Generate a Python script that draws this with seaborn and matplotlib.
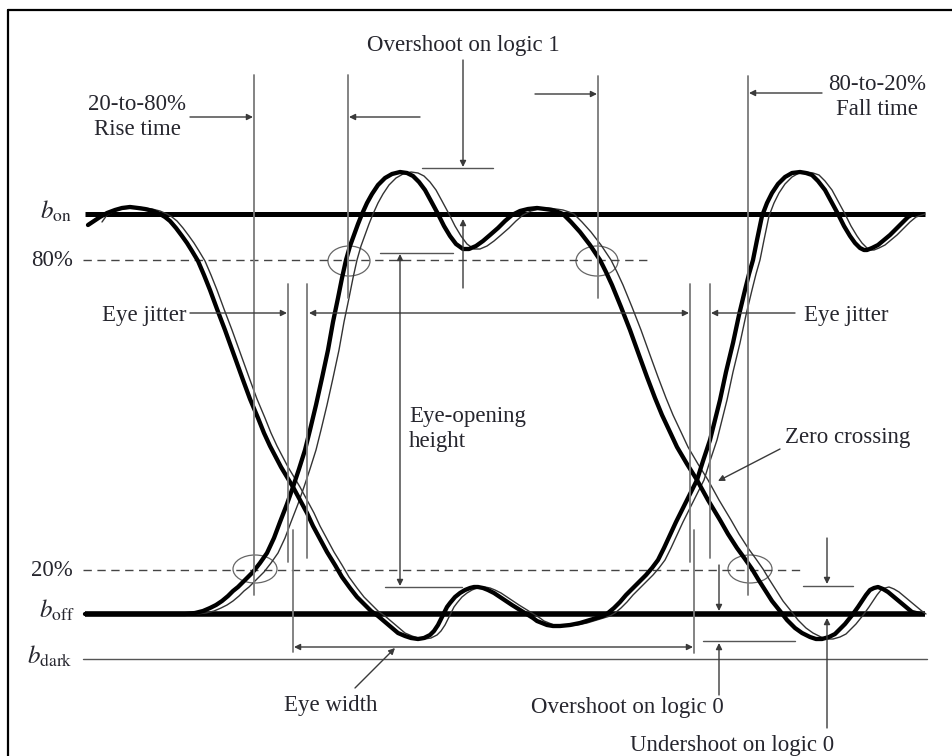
import numpy as np
import pandas as pd
import matplotlib
matplotlib.use("Agg")
import matplotlib.pyplot as plt
from matplotlib.patches import Ellipse
import seaborn as sns

sns.set_theme(style="white")
plt.rcParams['font.family'] = ['Liberation Serif', 'DejaVu Serif']
plt.rcParams['mathtext.fontset'] = 'stix'

# signal levels (vertical position on the drawing, y grows downward)
level_names = ["b_on", "80%", "20%", "b_off", "b_dark"]
level_y = [214, 260, 570, 614, 659]

# trace A: logic 0 -> 1 -> 0 (thick, early), (x, y) pairs
trace_a = [(85, 614), (160, 614), (185, 614), (195, 613), (203, 611), (210, 608), (216, 605),
           (222, 601), (228, 596), (233, 591), (238, 587), (243, 582), (248, 577), (253, 572),
           (260, 563), (267, 553), (274, 538), (280, 522), (287, 504), (293, 487), (299, 469),
           (305, 450), (310, 430), (316, 405), (322, 378), (328, 350), (333, 322), (338, 298),
           (342, 278), (346, 260), (350, 246), (354, 235), (358, 224), (362, 214), (367, 203),
           (372, 194), (378, 185), (385, 178), (392, 174), (400, 172), (407, 173), (413, 176),
           (419, 182), (425, 190), (431, 201), (438, 214), (444, 226), (450, 236), (456, 244),
           (463, 249), (469, 249), (476, 246), (483, 241), (490, 235), (498, 228), (505, 221),
           (512, 215), (520, 211), (528, 209), (537, 208), (545, 209), (552, 210), (558, 212),
           (563, 214), (571, 222), (580, 232), (590, 245), (600, 260), (606, 272), (612, 285),
           (621, 307), (630, 330), (639, 355), (647, 377), (655, 398), (662, 415), (670, 432),
           (677, 447), (687, 464), (697, 480), (708, 500), (720, 520), (728, 534), (737, 548),
           (745, 559), (752, 569), (758, 579), (765, 590), (772, 601), (780, 611), (787, 620),
           (795, 628), (802, 633), (810, 637), (816, 639), (822, 639), (829, 637), (835, 634),
           (840, 629), (845, 624), (849, 619), (853, 614), (858, 607), (862, 601), (866, 595),
           (870, 590), (874, 588), (878, 587), (883, 589), (888, 592), (894, 597), (900, 602),
           (906, 607), (912, 612), (920, 614)]

# trace A, late copy (thin)
trace_a_late = [(171, 614), (196, 614), (206, 613), (214, 611), (221, 608), (227, 605), (233, 601),
                (239, 596), (244, 591), (249, 587), (254, 582), (259, 577), (264, 572), (271, 563),
                (278, 553), (285, 538), (291, 522), (298, 504), (304, 487), (310, 469), (316, 450),
                (321, 430), (327, 405), (333, 378), (339, 350), (344, 322), (349, 298), (353, 278),
                (357, 260), (361, 246), (365, 235), (369, 224), (373, 214), (378, 203), (383, 194),
                (389, 185), (396, 178), (403, 174), (411, 172), (418, 173), (424, 176), (430, 182),
                (436, 190), (442, 201), (449, 214), (455, 226), (461, 236), (467, 244), (474, 249),
                (480, 249), (487, 246), (494, 241), (501, 235), (509, 228), (516, 221), (523, 215),
                (531, 211), (539, 209), (548, 208), (556, 209), (563, 210), (569, 212), (574, 214),
                (582, 222), (591, 232), (601, 245), (611, 260), (617, 272), (623, 285), (632, 307),
                (641, 330), (650, 355), (658, 377), (666, 398), (673, 415), (681, 432), (688, 447),
                (698, 464), (708, 480), (719, 500), (731, 520), (739, 534), (748, 548), (756, 559),
                (763, 569), (769, 579), (776, 590), (783, 601), (791, 611), (798, 620), (806, 628),
                (813, 633), (821, 637), (827, 639), (833, 639), (840, 637), (846, 634), (851, 629),
                (856, 624), (860, 619), (864, 614), (869, 607), (873, 601), (877, 595), (881, 590),
                (885, 588), (889, 587), (894, 589), (899, 592), (905, 597), (911, 602), (917, 607),
                (923, 612), (926, 614)]

# trace B: logic 1 -> 0 -> 1 (thick, early)
trace_b = [(88, 225), (94, 221), (100, 217), (107, 213), (115, 210), (122, 208), (130, 207),
           (138, 208), (145, 209), (153, 211), (160, 214), (165, 217), (170, 221), (176, 228),
           (182, 236), (187, 243), (192, 251), (198, 261), (204, 275), (210, 290), (217, 309),
           (225, 330), (234, 355), (243, 380), (250, 399), (258, 418), (264, 433), (270, 446),
           (281, 467), (293, 487), (300, 500), (307, 513), (313, 526), (320, 539), (327, 552),
           (335, 565), (342, 577), (350, 588), (357, 597), (365, 605), (371, 611), (378, 616),
           (385, 622), (392, 628), (398, 633), (405, 636), (411, 638), (418, 639), (424, 638),
           (430, 635), (434, 631), (438, 625), (441, 619), (444, 613), (447, 607), (450, 603),
           (455, 597), (460, 593), (465, 590), (470, 588), (474, 587), (478, 587), (483, 588),
           (488, 590), (494, 593), (500, 597), (506, 601), (512, 605), (520, 610), (528, 615),
           (533, 618), (537, 621), (542, 623), (547, 625), (553, 626), (560, 626), (570, 625),
           (580, 623), (590, 620), (597, 618), (603, 616), (608, 613), (614, 608), (620, 602),
           (626, 595), (633, 588), (639, 582), (646, 575), (652, 568), (658, 560), (664, 548),
           (670, 535), (676, 522), (683, 508), (690, 494), (697, 480), (703, 461), (710, 440),
           (715, 420), (720, 400), (726, 372), (733, 343), (739, 315), (745, 290), (749, 274),
           (753, 260), (757, 240), (762, 216), (767, 203), (772, 193), (778, 184), (785, 177),
           (792, 173), (800, 172), (806, 173), (812, 175), (818, 181), (825, 190), (831, 201),
           (838, 214), (844, 226), (850, 236), (855, 243), (860, 248), (864, 250), (867, 250),
           (872, 248), (878, 245), (884, 240), (890, 235), (897, 228), (903, 222), (908, 217),
           (913, 214)]

# trace B, late copy (thin)
trace_b_late = [(102, 222), (107, 215), (115, 211), (122, 209), (130, 208), (138, 207), (145, 208),
                (152, 209), (160, 211), (167, 214), (172, 217), (177, 221), (183, 228), (189, 236),
                (194, 243), (199, 251), (205, 261), (211, 275), (217, 290), (224, 309), (232, 330),
                (241, 355), (250, 380), (257, 399), (265, 418), (271, 433), (277, 446), (288, 467),
                (300, 487), (307, 500), (314, 513), (320, 526), (327, 539), (334, 552), (342, 565),
                (349, 577), (357, 588), (364, 597), (372, 605), (378, 611), (385, 616), (392, 622),
                (399, 628), (405, 633), (412, 636), (418, 638), (425, 639), (431, 638), (437, 635),
                (441, 631), (445, 625), (448, 619), (451, 613), (454, 607), (457, 603), (462, 597),
                (467, 593), (472, 590), (477, 588), (481, 587), (485, 587), (490, 588), (495, 590),
                (501, 593), (507, 597), (513, 601), (519, 605), (527, 610), (535, 615), (540, 618),
                (544, 621), (549, 623), (554, 625), (560, 626), (567, 626), (577, 625), (587, 623),
                (597, 620), (604, 618), (610, 616), (615, 613), (621, 608), (627, 602), (633, 595),
                (640, 588), (646, 582), (653, 575), (659, 568), (665, 560), (671, 548), (677, 535),
                (683, 522), (690, 508), (697, 494), (704, 480), (710, 461), (717, 440), (722, 420),
                (727, 400), (733, 372), (740, 343), (746, 315), (752, 290), (756, 274), (760, 260),
                (764, 240), (769, 216), (774, 203), (779, 193), (785, 184), (792, 177), (799, 173),
                (807, 172), (813, 173), (819, 175), (825, 181), (832, 190), (838, 201), (845, 214),
                (851, 226), (857, 236), (862, 243), (867, 248), (871, 250), (874, 250), (879, 248),
                (885, 245), (891, 240), (897, 235), (904, 228), (910, 222), (916, 217), (925, 214)]

txt = '#26262e'
ann = '#3a3a3a'
vline = '#7a7a7a'
fs = 16.5


def to_frame(points, name):
    df = pd.DataFrame(points, columns=["x", "y"])
    df["trace"] = name
    return df


fig = plt.figure(figsize=(9.52, 7.56), dpi=100)
ax = fig.add_axes([0, 0, 1, 1])

# level lines
ly = dict(zip(level_names, level_y))
ax.plot([85, 925], [ly["b_on"]] * 2, color='black', lw=3.6, solid_capstyle='butt')
ax.plot([83, 650], [ly["80%"]] * 2, color='#444444', lw=1.0, dashes=(6, 4))
ax.plot([83, 802], [ly["20%"]] * 2, color='#444444', lw=1.0, dashes=(6, 4))
ax.plot([85, 925], [ly["b_off"]] * 2, color='black', lw=4.0, solid_capstyle='butt')
ax.plot([83, 927], [ly["b_dark"]] * 2, color='#555555', lw=1.0)

# traces
thin = pd.concat([to_frame(trace_a_late, "A late"), to_frame(trace_b_late, "B late")])
sns.lineplot(data=thin, x="x", y="y", units="trace", estimator=None, sort=False,
             color='#333333', lw=1.0, ax=ax)
thick = pd.concat([to_frame(trace_a, "A"), to_frame(trace_b, "B")])
sns.lineplot(data=thick, x="x", y="y", units="trace", estimator=None, sort=False,
             color='black', lw=3.1, ax=ax)

ax.set_xlim(0, 952)
ax.set_ylim(756, 0)
ax.axis('off')

# frame (cut off at right and bottom)
ax.plot([8, 8], [10, 756], color='black', lw=1.6)
ax.plot([8, 952], [10, 10], color='black', lw=1.6)

ax.text(72, 211, r'$b_{\mathrm{on}}$', fontsize=18, ha='right', va='center', color=txt)
ax.text(73, 260, '80%', fontsize=fs, ha='right', va='center', color=txt)
ax.text(73, 571, '20%', fontsize=fs, ha='right', va='center', color=txt)
ax.text(75, 610, r'$b_{\mathrm{off}}$', fontsize=18, ha='right', va='center', color=txt)
ax.text(73, 656, r'$b_{\mathrm{dark}}$', fontsize=18, ha='right', va='center', color=txt)


def vl(x, y0, y1, c=vline, lw=1.3):
    ax.plot([x, x], [y0, y1], color=c, lw=lw)


def hl(y, x0, x1, c='#555555', lw=1.0):
    ax.plot([x0, x1], [y, y], color=c, lw=lw)


def arrow(x0, y0, x1, y1, both=False):
    style = '<|-|>' if both else '-|>'
    ax.annotate('', xy=(x1, y1), xytext=(x0, y0),
                arrowprops=dict(arrowstyle=style, color=ann, lw=1.0, mutation_scale=9,
                                shrinkA=0, shrinkB=0))


# rise / fall time markers
vl(254, 75, 595)
vl(348, 75, 298)
vl(598, 76, 298)
vl(748, 76, 595)
arrow(190, 117, 253, 117)
arrow(420, 117, 349, 117)
arrow(535, 94, 597, 94)
arrow(822, 93, 749, 93)
ax.text(137, 117, '20-to-80%\nRise time', fontsize=fs, ha='center', va='center',
        color=txt, linespacing=1.25)
ax.text(877, 97, '80-to-20%\nFall time', fontsize=fs, ha='center', va='center',
        color=txt, linespacing=1.25)

# ellipses at the threshold crossings
for cx, cy, w, h in [(349, 261, 42, 30), (597, 261, 42, 30), (255, 569, 44, 28), (750, 569, 44, 28)]:
    ax.add_patch(Ellipse((cx, cy), w, h, fill=False, ec='#666666', lw=0.9))

# overshoot on logic 1
ax.text(463, 46, 'Overshoot on logic 1', fontsize=fs, ha='center', va='center', color=txt)
arrow(463, 60, 463, 167)
hl(168, 422, 493)
arrow(463, 288, 463, 219)

# eye opening height
hl(253, 380, 453)
hl(587, 385, 462)
arrow(400, 586, 400, 254, both=True)
ax.text(409, 429, 'Eye-opening\nheight', fontsize=fs, ha='left', va='center',
        color=txt, linespacing=1.2)

# eye jitter
vl(288, 284, 562)
vl(307, 284, 558)
vl(293, 530, 652)
vl(690, 284, 562)
vl(710, 284, 558)
vl(694, 530, 653)
arrow(190, 313, 287, 313)
arrow(309, 313, 689, 313, both=True)
arrow(795, 313, 711, 313)
ax.text(144, 316, 'Eye jitter', fontsize=fs, ha='center', va='center', color=txt)
ax.text(846, 315, 'Eye jitter', fontsize=fs, ha='center', va='center', color=txt)

# zero crossing
arrow(780, 449, 718, 481)
ax.text(848, 437, 'Zero crossing', fontsize=fs, ha='center', va='center', color=txt)

# eye width
arrow(294, 647, 693, 647, both=True)
arrow(355, 688, 395, 648)
ax.text(331, 705, 'Eye width', fontsize=fs, ha='center', va='center', color=txt)

# overshoot / undershoot on logic 0
arrow(719, 565, 719, 611)
hl(641, 703, 795)
arrow(719, 695, 719, 643)
ax.text(627, 708, 'Overshoot on logic 0', fontsize=fs, ha='center', va='center', color=txt)
arrow(827, 538, 827, 584)
hl(586, 803, 853)
arrow(827, 728, 827, 618)
ax.text(732, 745, 'Undershoot on logic 0', fontsize=fs, ha='center', va='center', color=txt)

fig.savefig('out.png', dpi=100, facecolor='white')
